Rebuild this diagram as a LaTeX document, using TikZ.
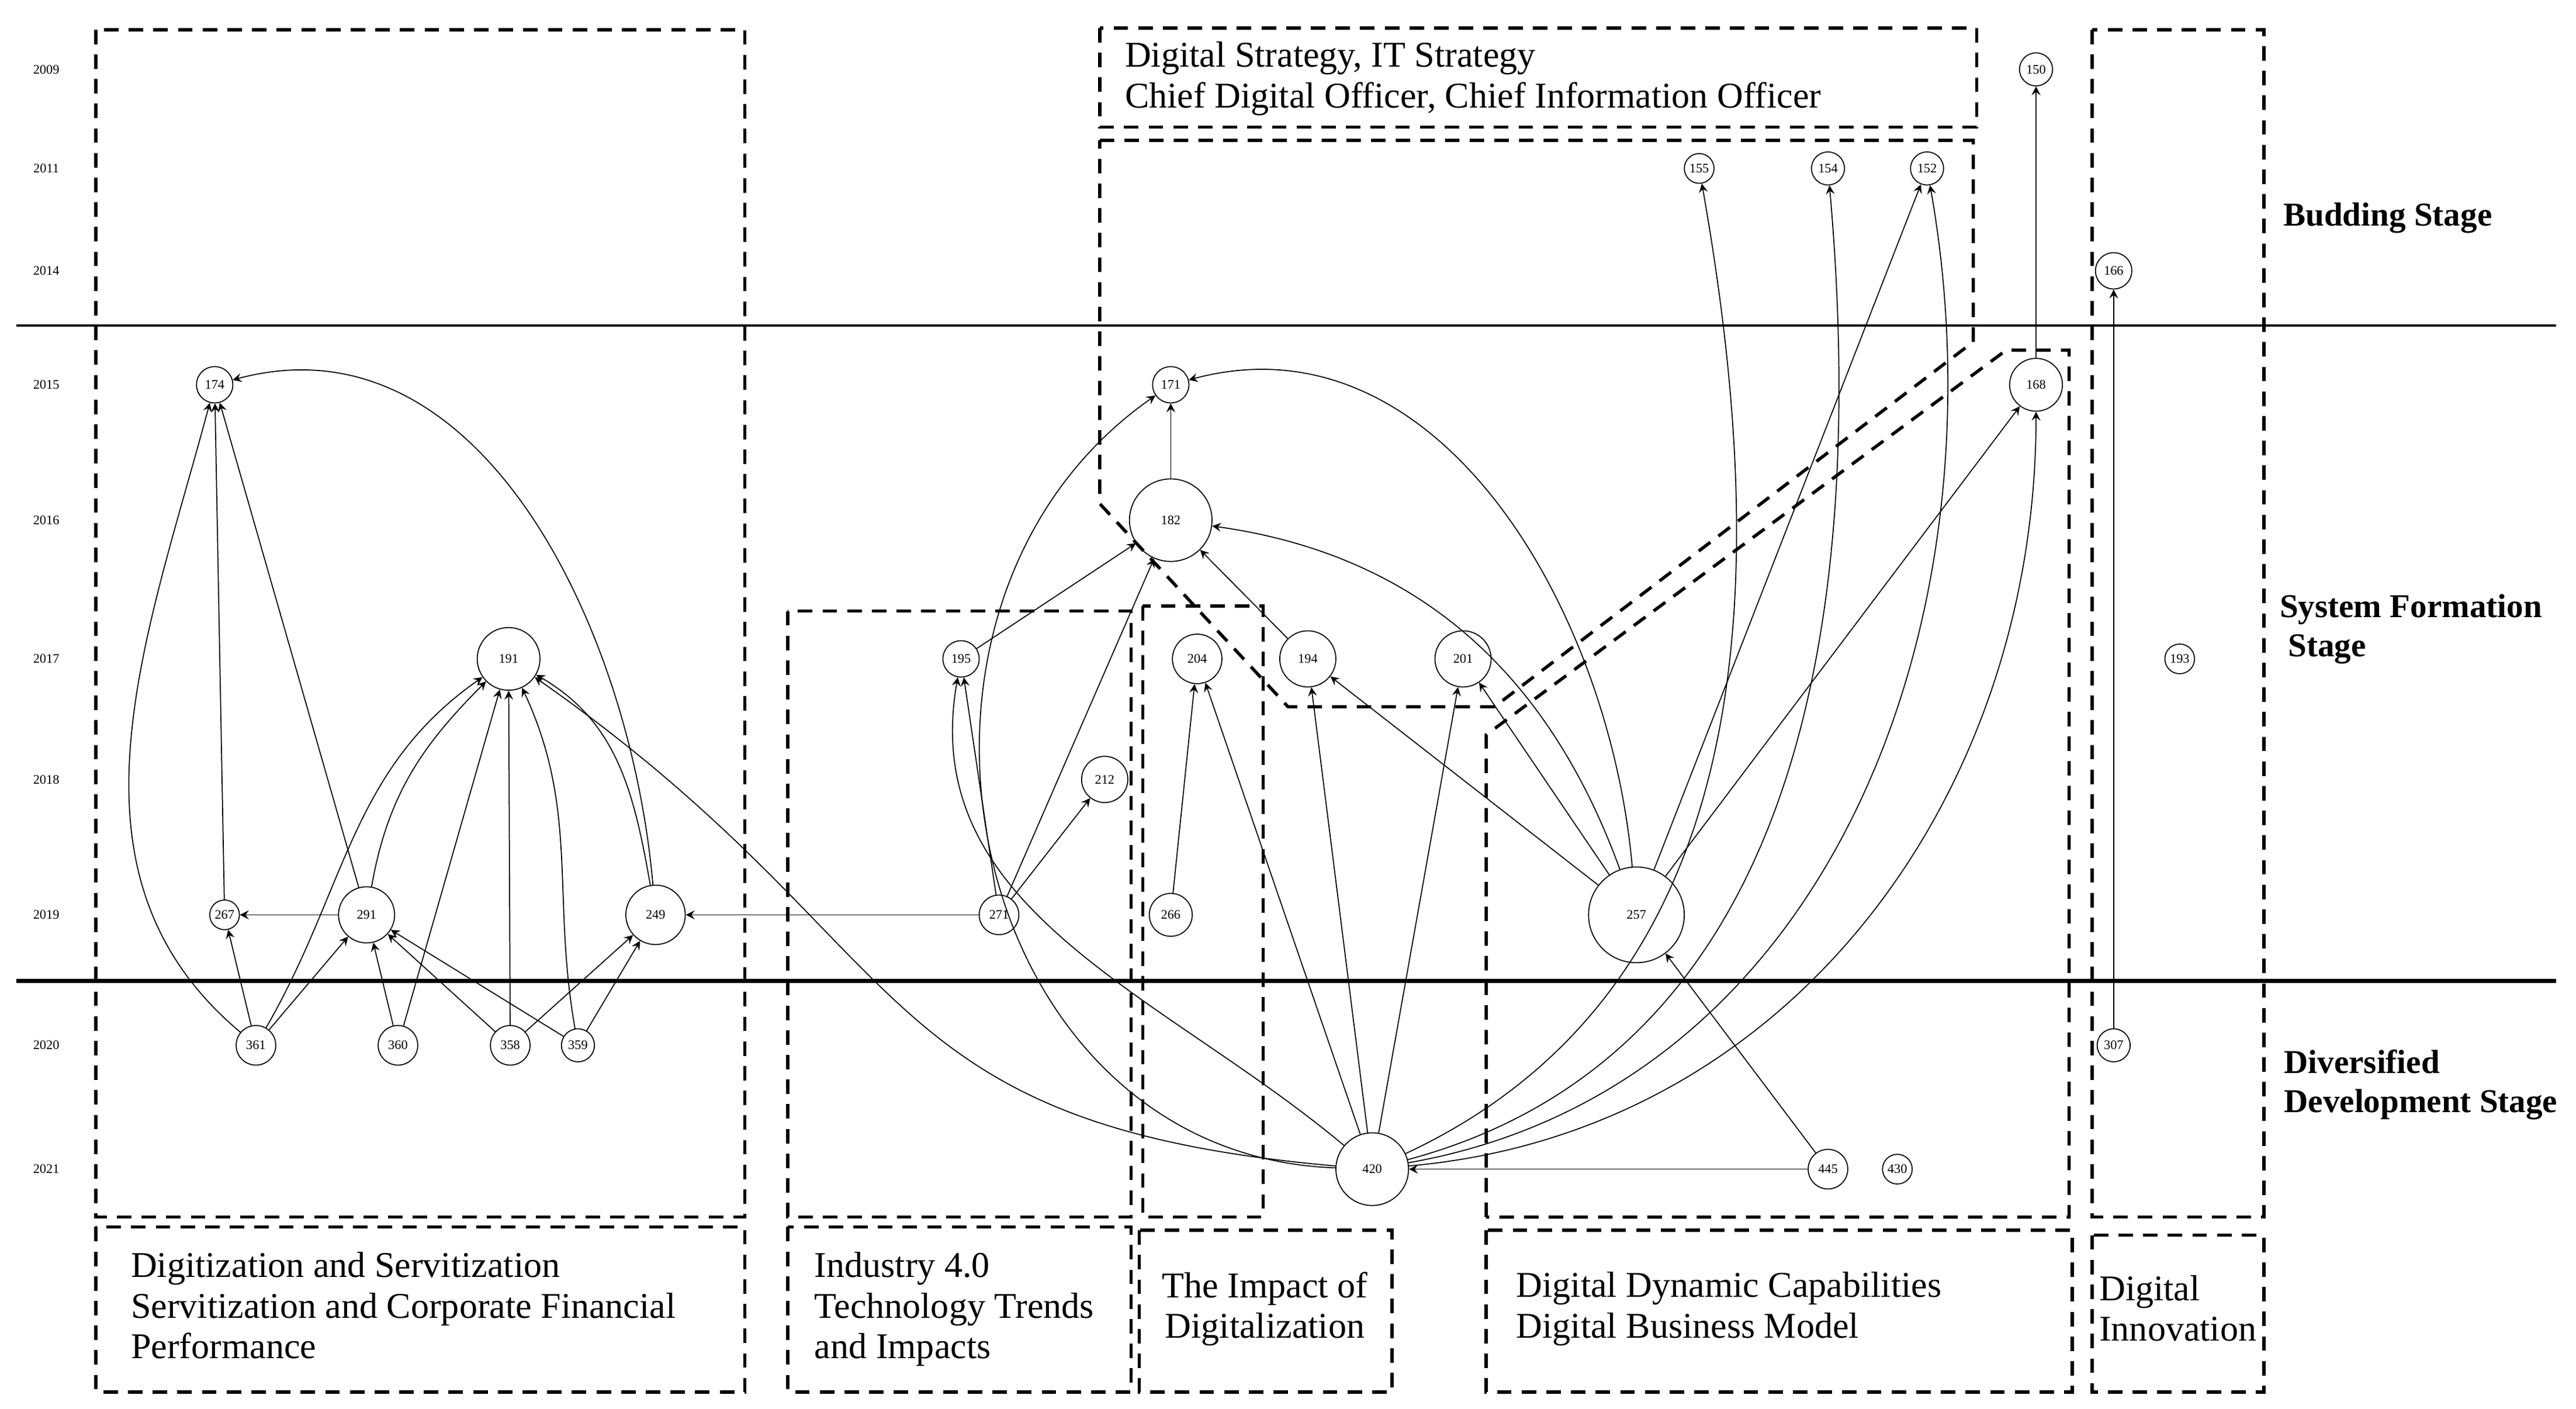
\documentclass[tikz,border=0pt]{standalone}
\usepackage{fontspec}
\setmainfont{Liberation Serif}
\usetikzlibrary{arrows}
\begin{document}
\begin{tikzpicture}[x=0.02cm, y=-0.02cm, line width=0.35pt, >=stealth,
		nd/.style={draw, circle, inner sep=0pt, minimum size=#1*0.04cm, font=\fontsize{4.5}{5}\selectfont},
		yr/.style={font=\fontsize{4.5}{5}\selectfont},
		grp/.style={dashed, line width=1.1pt, dash pattern=on 5pt off 3.5pt},
		lab/.style={align=left, anchor=north west, font=\fontsize{12.5}{14}\selectfont, inner sep=0pt},
		stg/.style={align=left, font=\bfseries\fontsize{11.5}{13.5}\selectfont},
		ed/.style={->, line width=0.35pt}]
	\useasboundingbox (0,0) rectangle (1560,853);
	% years
	\foreach \yy/\t in {42/2009,102/2011,164/2014,233/2015,315/2016,399/2017,472/2018,554/2019,633/2020,708/2021}
		\node[yr] at (28,\yy) {\t};
	% stage lines
	\draw[line width=0.8pt] (10,197) -- (1548,197);
	\draw[line width=1.3pt] (10,594) -- (1548,594);
	\node[stg] at (1446,132) {Budding Stage};
	\node[stg] at (1460,381) {System Formation\\ \ Stage};
	\node[stg] at (1466,657) {Diversified\\Development Stage};
	% groups
	\draw[grp] (58,18) rectangle (451,737);
	\draw[grp] (58,743) rectangle (451,843);
	\draw[grp] (666,17) rectangle (1197,77);
	\draw[grp] (666,85) -- (1195,85) -- (1195,207) -- (905,428) -- (780,428) -- (666,305) -- cycle;
	\draw[grp] (900,737) -- (900,445) -- (1215,212) -- (1253,212) -- (1253,737) -- cycle;
	\draw[grp] (900,745) rectangle (1255,843);
	\draw[grp] (477,370) rectangle (685,737);
	\draw[grp] (477,743) rectangle (685,843);
	\draw[grp] (692,367) rectangle (765,737);
	\draw[grp] (690,745) rectangle (843,843);
	\draw[grp] (1267,18) rectangle (1371,737);
	\draw[grp] (1267,748) rectangle (1371,843);
	\node[lab] at (79,758) {Digitization and Servitization\\Servitization and Corporate Financial\\Performance};
	\node[lab] at (681,25) {Digital Strategy, IT Strategy\\Chief Digital Officer, Chief Information Officer};
	\node[lab] at (493,758) {Industry 4.0\\Technology Trends\\and Impacts};
	\node[lab, align=center, anchor=north] at (766,770) {The Impact of\\Digitalization};
	\node[lab] at (918,770) {Digital Dynamic Capabilities\\Digital Business Model};
	\node[lab] at (1271,772) {Digital\\Innovation};
	% nodes
	\node[nd=10] (n150) at (1233,42) {150};
	\node[nd=9]  (n155) at (1029,102) {155};
	\node[nd=10] (n154) at (1107,102) {154};
	\node[nd=10] (n152) at (1167,102) {152};
	\node[nd=11] (n166) at (1280,164) {166};
	\node[nd=11] (n174) at (130,233) {174};
	\node[nd=11] (n171) at (709,233) {171};
	\node[nd=16] (n168) at (1233,233) {168};
	\node[nd=25] (n182) at (709,315) {182};
	\node[nd=19] (n191) at (308,399) {191};
	\node[nd=11] (n195) at (582,399) {195};
	\node[nd=15] (n204) at (725,399) {204};
	\node[nd=17] (n194) at (792,399) {194};
	\node[nd=17] (n201) at (886,399) {201};
	\node[nd=9]  (n193) at (1320,399) {193};
	\node[nd=14] (n212) at (669,472) {212};
	\node[nd=9]  (n267) at (136,554) {267};
	\node[nd=17] (n291) at (222,554) {291};
	\node[nd=18] (n249) at (397,554) {249};
	\node[nd=12] (n271) at (605,554) {271};
	\node[nd=13] (n266) at (709,554) {266};
	\node[nd=29] (n257) at (991,554) {257};
	\node[nd=12] (n361) at (155,633) {361};
	\node[nd=12] (n360) at (241,633) {360};
	\node[nd=12] (n358) at (309,633) {358};
	\node[nd=10] (n359) at (350,633) {359};
	\node[nd=10] (n307) at (1280,633) {307};
	\node[nd=22] (n420) at (831,708) {420};
	\node[nd=12] (n445) at (1107,708) {445};
	\node[nd=9]  (n430) at (1149,708) {430};
	% citation links
	\draw[ed] (n361) to[out=140,in=255] (n174);
	\draw[ed] (n361) -- (n267);
	\draw[ed] (n361) -- (n291);
	\draw[ed] (n361) to[out=60,in=215] (n191);
	\draw[ed] (n267) -- (n174);
	\draw[ed] (n291) -- (n267);
	\draw[ed] (n291) -- (n174);
	\draw[ed] (n291) to[out=80,in=225] (n191);
	\draw[ed] (n360) -- (n291);
	\draw[ed] (n360) -- (n191);
	\draw[ed] (n358) -- (n291);
	\draw[ed] (n358) -- (n191);
	\draw[ed] (n358) -- (n249);
	\draw[ed] (n359) -- (n291);
	\draw[ed] (n359) -- (n249);
	\draw[ed] (n359) to[out=100,in=-65] (n191);
	\draw[ed] (n249) to[out=100,in=-30] (n191);
	\draw[ed] (n249) to[out=95,in=15] (n174);
	\draw[ed] (n271) -- (n249);
	\draw[ed] (n271) -- (n195);
	\draw[ed] (n271) -- (n212);
	\draw[ed] (n271) -- (n182);
	\draw[ed] (n195) -- (n182);
	\draw[ed] (n182) -- (n171);
	\draw[ed] (n194) -- (n182);
	\draw[ed] (n266) -- (n204);
	\draw[ed] (n257) to[out=110,in=-8] (n182);
	\draw[ed] (n257) to[out=95,in=15] (n171);
	\draw[ed] (n257) -- (n194);
	\draw[ed] (n257) -- (n201);
	\draw[ed] (n257) -- (n152);
	\draw[ed] (n257) -- (n168);
	\draw[ed] (n420) to[out=175,in=-35,looseness=1.3] (n191);
	\draw[ed] (n420) to[out=178,in=215,looseness=1.2] (n171);
	\draw[ed] (n420) to[out=140,in=-100] (n195);
	\draw[ed] (n420) -- (n204);
	\draw[ed] (n420) -- (n194);
	\draw[ed] (n420) -- (n201);
	\draw[ed] (n420) to[out=25,in=-80] (n155);
	\draw[ed] (n420) to[out=15,in=-85] (n154);
	\draw[ed] (n420) to[out=10,in=-80] (n152);
	\draw[ed] (n420) to[out=5,in=-90] (n168);
	\draw[ed] (n445) -- (n420);
	\draw[ed] (n445) -- (n257);
	\draw[ed] (n307) -- (n166);
	\draw[ed] (n168) -- (n150);
\end{tikzpicture}
\end{document}
